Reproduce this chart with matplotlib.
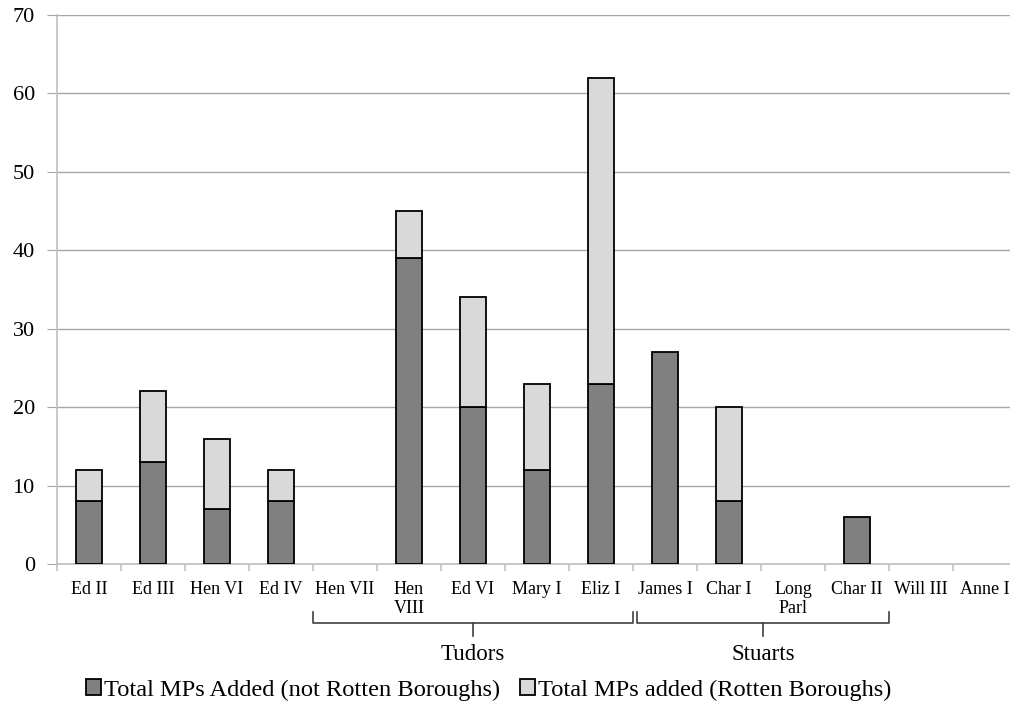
import matplotlib.pyplot as plt
import numpy as np
from matplotlib.transforms import blended_transform_factory

plt.rcParams['font.family'] = ['Liberation Serif', 'DejaVu Serif']

reigns = ["Ed II", "Ed III", "Hen VI", "Ed IV", "Hen VII", "Hen\nVIII", "Ed VI",
          "Mary I", "Eliz I", "James I", "Char I", "Long\nParl", "Char II",
          "Will III", "Anne I"]
not_rotten = [8, 13, 7, 8, 0, 39, 20, 12, 23, 27, 8, 0, 6, 0, 0]
rotten = [4, 9, 9, 4, 0, 6, 14, 11, 39, 0, 12, 0, 0, 0, 0]
# dynasty groups: (name, first index, last index)
groups = [("Tudors", 4, 8), ("Stuarts", 9, 12)]

fig = plt.figure(figsize=(10.1, 7.07), dpi=100)
ax = fig.add_axes([57 / 1010, 1 - 564 / 707, 960 / 1010, 549 / 707])

x = np.arange(len(reigns))
nr = np.array(not_rotten)
rt = np.array(rotten)
w = 0.4
# skip empty segments so no flat outline is drawn on the axis
m1 = nr > 0
m2 = rt > 0
ax.bar(x[m1], nr[m1], w, color='#808080', edgecolor='black', linewidth=1.3,
       label='Total MPs Added (not Rotten Boroughs)', zorder=3)
ax.bar(x[m2], rt[m2], w, bottom=nr[m2], color='#d9d9d9', edgecolor='black',
       linewidth=1.3, label='Total MPs added (Rotten Boroughs)', zorder=3)

ax.set_xlim(-0.5, len(reigns) - 0.5)
ax.set_ylim(0, 70)
ax.set_yticks(range(0, 71, 10))
ax.yaxis.grid(True, color='#a6a6a6', linewidth=1)
ax.set_axisbelow(True)
for s in ['top', 'right']:
    ax.spines[s].set_visible(False)
for s in ['left', 'bottom']:
    ax.spines[s].set_color('#bfbfbf')
    ax.spines[s].set_linewidth(1.2)

ax.tick_params(axis='y', length=7, color='#a6a6a6', labelsize=16, pad=9)
ax.set_xticks(x)
ax.set_xticklabels(reigns, fontsize=13, linespacing=1.15)
ax.tick_params(axis='x', which='major', length=0, pad=12)
ax.set_xticks(np.arange(-0.5, len(reigns), 1), minor=True)
ax.tick_params(axis='x', which='minor', length=5, color='#bfbfbf', width=1.2)

# brackets under the reign labels for the dynasties
tr = blended_transform_factory(ax.transData, fig.transFigure)
y_top, y_mid, y_bot = 1 - 612 / 707, 1 - 623 / 707, 1 - 636 / 707
gap = 4 / 64
for k, (name, a, b) in enumerate(groups):
    x0 = a - 0.5 + (gap if k > 0 else 0)
    x1 = b + 0.5
    xc = (x0 + x1) / 2
    ax.plot([x0, x0, x1, x1], [y_top, y_mid, y_mid, y_top], color='#404040',
            linewidth=1.2, transform=tr, clip_on=False)
    ax.plot([xc, xc], [y_mid, y_bot], color='#404040', linewidth=1.2,
            transform=tr, clip_on=False)
    ax.text(xc, 1 - 654 / 707, name, transform=tr, ha='center', va='center',
            fontsize=16.5)

fig.legend(loc='center', bbox_to_anchor=(489 / 1010, 1 - 690 / 707), ncol=2,
           frameon=False, fontsize=17.6, handlelength=0.6, handleheight=0.6,
           handletextpad=0.15, columnspacing=0.8)

fig.savefig('out.png', dpi=100)
